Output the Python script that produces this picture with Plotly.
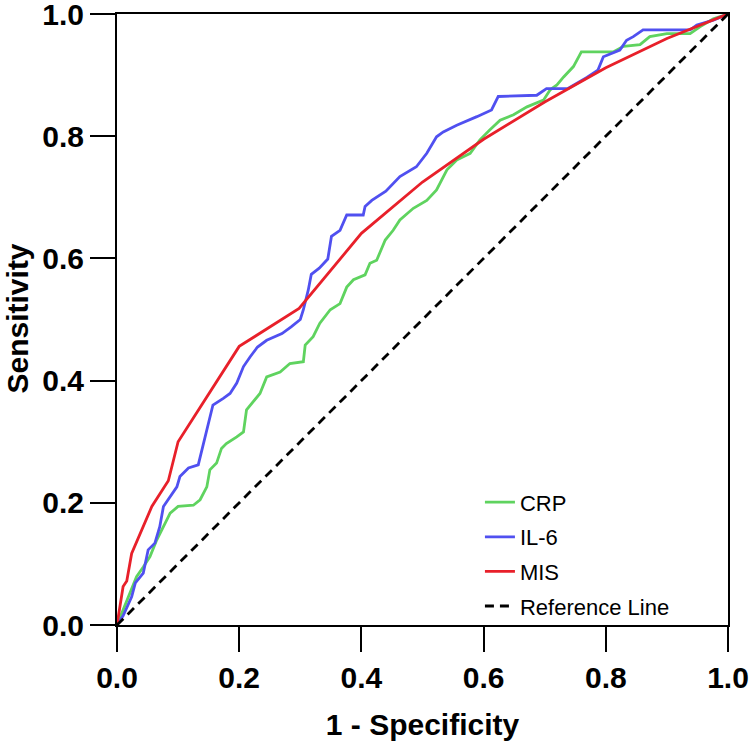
import plotly.graph_objects as go

# ---- data ----
crp_fpr = [0, 0.016, 0.032, 0.043, 0.054, 0.065, 0.079, 0.087, 0.1, 0.125, 0.136, 0.147, 0.152, 0.163,
           0.171, 0.179, 0.196, 0.207, 0.212, 0.223, 0.234, 0.245, 0.267, 0.283, 0.305, 0.308, 0.321,
           0.332, 0.349, 0.365, 0.376, 0.387, 0.406, 0.414, 0.425, 0.439, 0.452, 0.463, 0.485, 0.507,
           0.523, 0.54, 0.556, 0.578, 0.594, 0.61, 0.627, 0.649, 0.671, 0.698, 0.709, 0.72, 0.731,
           0.747, 0.76, 0.812, 0.829, 0.856, 0.872, 0.9, 0.938, 0.954, 0.976, 1.0]
crp_tpr = [0, 0.041, 0.079, 0.095, 0.112, 0.139, 0.166, 0.183, 0.194, 0.196, 0.205, 0.226, 0.254, 0.265,
           0.289, 0.297, 0.308, 0.316, 0.352, 0.366, 0.379, 0.406, 0.414, 0.428, 0.431, 0.458, 0.472,
           0.494, 0.516, 0.526, 0.553, 0.565, 0.573, 0.592, 0.597, 0.63, 0.646, 0.663, 0.682, 0.695,
           0.712, 0.745, 0.761, 0.772, 0.794, 0.81, 0.826, 0.835, 0.848, 0.859, 0.876, 0.884, 0.897,
           0.914, 0.938, 0.938, 0.947, 0.95, 0.963, 0.968, 0.968, 0.979, 0.992, 1.0]

il6_fpr = [0, 0.01, 0.024, 0.03, 0.043, 0.051, 0.062, 0.07, 0.076, 0.087, 0.098, 0.103, 0.117, 0.133,
           0.139, 0.149, 0.157, 0.174, 0.185, 0.196, 0.207, 0.218, 0.23, 0.245, 0.27, 0.285, 0.3, 0.305,
           0.313, 0.318, 0.331, 0.345, 0.351, 0.365, 0.376, 0.403, 0.406, 0.417, 0.44, 0.463, 0.49,
           0.507, 0.523, 0.534, 0.556, 0.589, 0.613, 0.624, 0.687, 0.703, 0.738, 0.769, 0.787, 0.796,
           0.823, 0.834, 0.845, 0.861, 0.938, 0.949, 0.976, 1.0]
il6_tpr = [0, 0.015, 0.046, 0.069, 0.085, 0.123, 0.134, 0.161, 0.194, 0.21, 0.226, 0.243, 0.257, 0.262,
           0.286, 0.325, 0.36, 0.371, 0.379, 0.396, 0.423, 0.439, 0.455, 0.466, 0.477, 0.488, 0.5, 0.516,
           0.548, 0.574, 0.584, 0.599, 0.636, 0.646, 0.671, 0.671, 0.685, 0.695, 0.71, 0.734, 0.75,
           0.772, 0.799, 0.807, 0.818, 0.832, 0.843, 0.865, 0.867, 0.878, 0.878, 0.896, 0.908, 0.93,
           0.941, 0.957, 0.963, 0.974, 0.974, 0.982, 0.99, 1.0]

mis_fpr = [0, 0.01, 0.016, 0.024, 0.057, 0.084, 0.1, 0.2, 0.298, 0.4, 0.5, 0.6, 0.7, 0.8, 0.9, 1.0]
mis_tpr = [0, 0.063, 0.072, 0.117, 0.194, 0.236, 0.3, 0.456, 0.518, 0.641, 0.725, 0.795, 0.856, 0.912, 0.96, 1.0]

ref_x = [0, 1]
ref_y = [0, 1]

tick_vals = [0, 0.2, 0.4, 0.6, 0.8, 1.0]
tick_text = ["0.0", "0.2", "0.4", "0.6", "0.8", "1.0"]

FONT = "Liberation Sans, Arial, sans-serif"

fig = go.Figure()
fig.add_trace(go.Scatter(x=crp_fpr, y=crp_tpr, mode="lines", name="CRP", legendgroup="a",
                         line=dict(color="#5fd35f", width=2.8)))
fig.add_trace(go.Scatter(x=il6_fpr, y=il6_tpr, mode="lines", name="IL-6", legendgroup="b",
                         line=dict(color="#5050f0", width=2.8)))
fig.add_trace(go.Scatter(x=mis_fpr, y=mis_tpr, mode="lines", name="MIS", legendgroup="c",
                         line=dict(color="#e8202a", width=2.8)))
fig.add_trace(go.Scatter(x=ref_x, y=ref_y, mode="lines", name="Reference Line", legendgroup="d",
                         line=dict(color="black", width=2.8, dash="9px,6px")))

axis_common = dict(range=[0, 1], tickvals=tick_vals, ticktext=tick_text,
                   showgrid=False, zeroline=False, showline=True, linecolor="black",
                   linewidth=2, mirror=True, ticks="outside", ticklen=25, tickwidth=2,
                   tickcolor="black", automargin=False, ticklabeloverflow="allow",
                   tickfont=dict(family=FONT, size=30, color="black", weight="bold"))

fig.update_xaxes(**axis_common,
                 title=dict(text="1 - Specificity", standoff=27,
                            font=dict(family=FONT, size=30, color="black", weight="bold")))
fig.update_yaxes(**axis_common)

fig.add_annotation(text="Sensitivity", textangle=-90, xref="paper", yref="paper",
                   x=0, y=0.5, xanchor="center", yanchor="middle", xshift=-100, yshift=1,
                   showarrow=False,
                   font=dict(family=FONT, size=30, color="black", weight="bold"))

fig.update_layout(
    width=751, height=741,
    margin=dict(l=117, r=23, t=14, b=116),
    plot_bgcolor="white", paper_bgcolor="white",
    showlegend=True,
    legend=dict(x=0.594, y=0.235, xanchor="left", yanchor="top",
                bgcolor="rgba(0,0,0,0)", font=dict(family=FONT, size=22, color="black"),
                tracegroupgap=3),
)

# remove the default 8px page margin so the figure fills the window exactly
fig.write_html("out.html", config={"displayModeBar": False},
               post_script="document.body.style.margin='0';")
